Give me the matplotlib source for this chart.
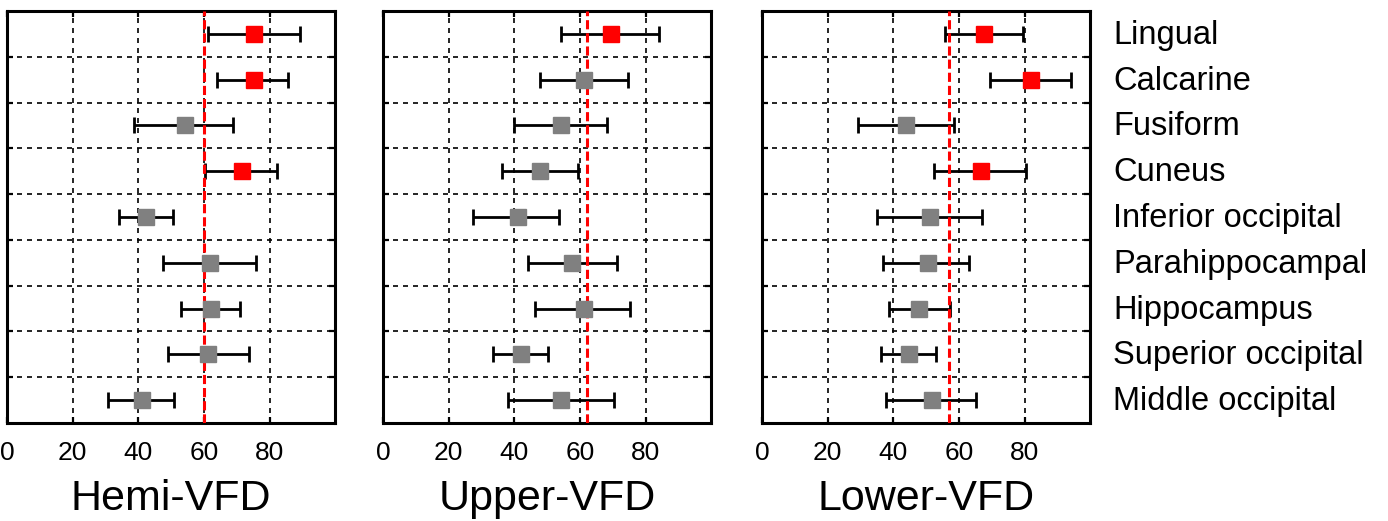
import matplotlib.pyplot as plt
import numpy as np

plt.rcParams['font.family'] = ['Liberation Sans', 'DejaVu Sans']

regions = ["Lingual", "Calcarine", "Fusiform", "Cuneus", "Inferior occipital",
           "Parahippocampal", "Hippocampus", "Superior occipital", "Middle occipital"]
panels = ["Hemi-VFD", "Upper-VFD", "Lower-VFD"]

# mean, lower end, upper end of error bar (per region, top to bottom)
hemi_mean = [75.3, 75.3, 54.2, 71.7, 42.4, 61.8, 62.2, 61.4, 41.2]
hemi_low = [61.2, 63.9, 38.8, 60.2, 34.0, 47.4, 53.1, 49.1, 30.9]
hemi_high = [89.3, 85.7, 69.0, 82.2, 50.5, 75.9, 71.0, 73.8, 50.8]

upper_mean = [69.3, 61.2, 54.3, 47.8, 41.0, 57.7, 61.2, 41.9, 54.3]
upper_low = [54.1, 47.7, 39.8, 36.1, 27.5, 44.1, 46.3, 33.5, 38.1]
upper_high = [84.1, 74.6, 68.3, 59.3, 53.7, 71.2, 75.1, 50.2, 70.4]

lower_mean = [67.6, 81.9, 44.0, 66.8, 51.3, 50.6, 47.9, 44.9, 51.8]
lower_low = [55.8, 69.4, 29.2, 52.3, 35.1, 36.9, 38.6, 36.4, 37.8]
lower_high = [79.6, 94.1, 58.4, 80.4, 67.1, 63.2, 57.2, 52.9, 65.2]

# significant regions drawn in red
hemi_sig = [1, 1, 0, 1, 0, 0, 0, 0, 0]
upper_sig = [1, 0, 0, 0, 0, 0, 0, 0, 0]
lower_sig = [1, 1, 0, 1, 0, 0, 0, 0, 0]

thresholds = [60.0, 62.2, 57.1]

data = [
    (hemi_mean, hemi_low, hemi_high, hemi_sig),
    (upper_mean, upper_low, upper_high, upper_sig),
    (lower_mean, lower_low, lower_high, lower_sig),
]

fig = plt.figure(figsize=(13.88, 5.21), dpi=100)
lefts = [0.005, 0.276, 0.549]
ypos = np.arange(len(regions))

for i, (mean, low, high, sig) in enumerate(data):
    ax = fig.add_axes([lefts[i], 0.188, 0.2365, 0.791])
    mean = np.array(mean)
    err = [mean - np.array(low), np.array(high) - mean]
    ax.errorbar(mean, ypos, xerr=err, fmt='none', ecolor='black',
                elinewidth=2.0, capsize=5.5, capthick=2.0, zorder=2.5)
    colors = ['#ff0000' if s else '#808080' for s in sig]
    for x, y, c in zip(mean, ypos, colors):
        ax.plot(x, y, marker='s', markersize=11, color=c,
                markeredgecolor=c, linestyle='none', zorder=4)
    ax.axvline(thresholds[i], color='#ff0000', linewidth=2.2,
               dashes=(3, 1.3), zorder=3)

    ax.set_xlim(0, 100)
    ax.set_ylim(8.5, -0.5)
    ax.set_xticks([0, 20, 40, 60, 80])
    ax.set_yticks(np.arange(0.5, 8.5, 1.0))
    ax.set_yticklabels([])
    ax.tick_params(axis='both', direction='in', length=4, width=1.6,
                   top=True, right=True, labelsize=19, pad=13)
    ax.grid(True, color='black', linewidth=1.2, linestyle=(0, (3, 3)))
    ax.set_axisbelow(True)
    for sp in ax.spines.values():
        sp.set_linewidth(2.2)
    ax.set_xlabel(panels[i], fontsize=31, labelpad=10)

    if i == 2:
        for y, name in zip(ypos, regions):
            ax.text(1.07, y + 0.22, name, transform=ax.get_yaxis_transform(),
                    fontsize=23.5, va='baseline', ha='left')

fig.savefig("out.png", dpi=100)
